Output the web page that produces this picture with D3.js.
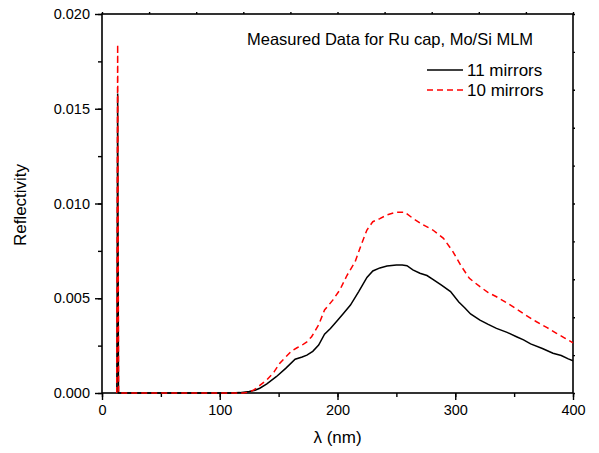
<!DOCTYPE html>
<html>
<head>
<meta charset="utf-8">
<script src="https://cdn.jsdelivr.net/npm/d3@7"></script>
<style>
  body { margin: 0; background: #fff; }
  svg { display: block; font-family: "Liberation Sans", Arial, sans-serif; }
</style>
</head>
<body>
<svg id="chart" width="599" height="453"></svg>
<script>
// ---- data ----
const title = "Measured Data for Ru cap, Mo/Si MLM";
const seriesNames = ["11 mirrors", "10 mirrors"];
const xTicks = [0, 100, 200, 300, 400];
const yTicks = [0.000, 0.005, 0.010, 0.015, 0.020];

const lambda11 = [12.6, 13.3, 14.0, 20, 40, 60, 80, 100, 110, 117, 125, 130, 134, 140, 148, 156, 164, 170, 174, 179, 184, 189, 194, 199, 205, 211, 218, 225, 230, 236, 242, 250, 255, 259, 264, 270, 276, 281, 288, 296, 303, 308, 313, 321, 328, 335, 344, 352, 358, 364, 374, 383, 390, 396, 400];
const refl11 = [0, 0.0158, 0, 0, 0, 0, 0, 0, 0, 0.00002, 0.00008, 0.00015, 0.00025, 0.00048, 0.00086, 0.0013, 0.00178, 0.0019, 0.0020, 0.0022, 0.00253, 0.0031, 0.0034, 0.00376, 0.0042, 0.00464, 0.00535, 0.0061, 0.00644, 0.0066, 0.0067, 0.00675, 0.00675, 0.00672, 0.0065, 0.00632, 0.0062, 0.0060, 0.0057, 0.00535, 0.0048, 0.0045, 0.00417, 0.00385, 0.00362, 0.00341, 0.0032, 0.00297, 0.0028, 0.00259, 0.00235, 0.0021, 0.00198, 0.0018, 0.0017];

const lambda10 = [12.5, 13.3, 14.1, 20, 40, 60, 80, 100, 120, 125, 129, 134, 140, 146, 151, 156, 161, 166, 170, 174, 178, 184, 189, 196, 202, 208, 215, 220, 225, 230, 236, 242, 250, 257, 264, 272, 281, 290, 298, 305, 312, 321, 328, 335, 344, 352, 360, 369, 378, 386, 393, 400];
const refl10 = [0, 0.0184, 0, 0, 0, 0, 0, 0, 0, 0.00005, 0.00016, 0.0004, 0.00069, 0.0011, 0.00157, 0.0019, 0.00222, 0.0024, 0.00253, 0.0027, 0.00297, 0.0036, 0.00438, 0.0049, 0.00544, 0.0062, 0.00693, 0.0078, 0.0086, 0.00904, 0.0092, 0.0094, 0.00954, 0.00954, 0.00922, 0.0089, 0.0086, 0.00816, 0.00746, 0.0067, 0.00605, 0.00561, 0.0053, 0.00508, 0.00475, 0.00443, 0.0041, 0.00376, 0.00345, 0.00315, 0.0029, 0.00265];

// ---- layout ----
const svg = d3.select("#chart");
const L = 102, R = 573, T = 14, B = 393;
const x = d3.scaleLinear().domain([0, 400]).range([L, R]);
const y = d3.scaleLinear().domain([0, 0.02]).range([B, T]);

const axisW = 1.6;

// minor ticks
const gx = svg.append("g").attr("transform", `translate(0,${B})`)
  .call(d3.axisBottom(x).tickValues(d3.range(0, 401, 50)).tickSize(4).tickFormat(""));
const gxM = svg.append("g").attr("transform", `translate(0,${B})`)
  .call(d3.axisBottom(x).tickValues(xTicks).tickSize(7).tickPadding(5).tickFormat(d3.format("d")));
const gy = svg.append("g").attr("transform", `translate(${L},0)`)
  .call(d3.axisLeft(y).tickValues(d3.range(0, 0.0201, 0.0025)).tickSize(4).tickFormat(""));
const gyM = svg.append("g").attr("transform", `translate(${L},0)`)
  .call(d3.axisLeft(y).tickValues(yTicks).tickSize(7).tickPadding(5).tickFormat(d3.format(".3f")));
const gr = svg.append("g").attr("transform", `translate(${R},0)`)
  .call(d3.axisRight(y).tickValues(d3.range(0, 0.0201, 0.002)).tickSize(2).tickFormat(""));
const gt = svg.append("g").attr("transform", `translate(0,${T})`)
  .call(d3.axisTop(x).tickValues(d3.range(0, 401, 40)).tickSize(2).tickFormat(""));

[gx, gxM, gy, gyM, gr, gt].forEach(g => {
  g.select(".domain").remove();
  g.selectAll(".tick line").attr("stroke", "#000").attr("stroke-width", 1.4);
  g.selectAll(".tick text").attr("font-size", 14.5).attr("fill", "#000")
    .attr("font-family", "'Liberation Sans', Arial, sans-serif");
});

// frame
svg.append("rect").attr("x", L).attr("y", T).attr("width", R - L).attr("height", B - T)
  .attr("fill", "none").attr("stroke", "#000").attr("stroke-width", axisW);

// lines
const line = d3.line().x(d => x(d[0])).y(d => y(d[1]));
const d11 = lambda11.map((v, i) => [v, refl11[i]]);
const d10 = lambda10.map((v, i) => [v, refl10[i]]);

svg.append("path").datum(d11).attr("d", line)
  .attr("fill", "none").attr("stroke", "#000").attr("stroke-width", 1.5);
svg.append("path").datum(d10).attr("d", line)
  .attr("fill", "none").attr("stroke", "#ff0000").attr("stroke-width", 1.5)
  .attr("stroke-dasharray", "6,4");

// axis titles
svg.append("text").attr("x", 337.5).attr("y", 443).attr("text-anchor", "middle")
  .attr("font-size", 17).text("λ (nm)");
svg.append("text").attr("transform", `translate(26,205) rotate(-90)`)
  .attr("text-anchor", "middle").attr("font-size", 17).text("Reflectivity");

// legend
svg.append("text").attr("x", 247).attr("y", 45).attr("font-size", 16.5).text(title);
const legY = [70, 90];
const legColors = ["#000", "#ff0000"];
const legDash = [null, "6,4"];
seriesNames.forEach((n, i) => {
  svg.append("line").attr("x1", 427).attr("x2", 463).attr("y1", legY[i]).attr("y2", legY[i])
    .attr("stroke", legColors[i]).attr("stroke-width", 1.5)
    .attr("stroke-dasharray", legDash[i]);
  svg.append("text").attr("x", 467).attr("y", legY[i] + 6).attr("font-size", 17).text(n);
});
</script>
</body>
</html>
